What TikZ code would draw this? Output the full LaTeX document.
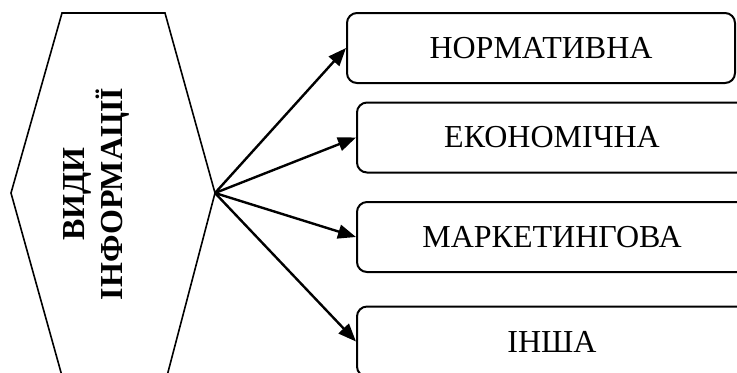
\documentclass[tikz,border=0pt]{standalone}
\usepackage{fontspec}
\setmainfont{Liberation Serif}
\usetikzlibrary{arrows.meta}

\begin{document}
\begin{tikzpicture}[x=0.5pt, y=-0.5pt,
  kind/.style={draw, line width=1pt, rounded corners=5pt, minimum width=195pt, minimum height=35pt, font=\fontsize{16}{19}\selectfont},
  link/.style={line width=1.2pt, -{Triangle[length=9pt, width=7pt]}}]
\useasboundingbox (0,0) rectangle (737,372);
% hexagon
\draw[line width=0.8pt] (62,13) -- (165,13) -- (215,193) coordinate (hexR) -- (167,376) -- (62,376) -- (11,193) -- cycle;
\node[rotate=90, align=center, font=\fontsize{16}{19}\selectfont\bfseries] (title) at (96,194) {ВИДИ\\ІНФОРМАЦІЇ};
% kinds of information
\node[kind, minimum width=194pt] (norm) at (541,48) {НОРМАТИВНА};
\node[kind] (econ) at (552,137.5) {ЕКОНОМІЧНА};
\node[kind] (mark) at (552,237) {МАРКЕТИНГОВА};
\node[kind] (other) at (552,341.5) {ІНША};
% arrows
\draw[link] (hexR) -- (norm.west);
\draw[link] (hexR) -- (econ.west);
\draw[link] (hexR) -- (mark.west);
\draw[link] (hexR) -- (other.west);
\end{tikzpicture}
\end{document}
